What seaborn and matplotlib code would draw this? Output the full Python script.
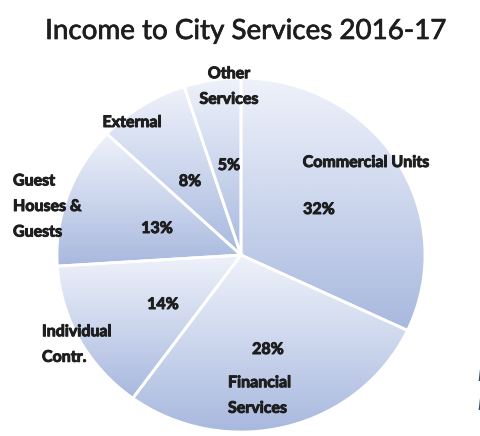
import numpy as np
import matplotlib
matplotlib.use("Agg")
import matplotlib.pyplot as plt
import matplotlib.patheffects as pe
import seaborn as sns

# Share of income by source, in percent (clockwise from 12 o'clock)
categories = ["Commercial Units", "Financial Services", "Individual Contr.",
              "Guest Houses & Guests", "External", "Other Services"]
shares = [32, 28, 14, 13, 8, 5]

title_text = "Income to City Services 2016-17"

sns.set_theme(style="white")
plt.rcParams["font.family"] = ["Lato", "DejaVu Sans"]

W, H = 481, 436
fig = plt.figure(figsize=(W / 100, H / 100), dpi=100)
fig.patch.set_facecolor("white")

# Pie axes: centre (241, 255) px, horizontal radius 184 px, vertical 177 px
cx, cy, rx, ry = 241, 255, 184, 177
ax = fig.add_axes([(cx - rx) / W, (H - (cy + ry)) / H, 2 * rx / W, 2 * ry / H])

# Per-slice vertical gradient: pale at the top, soft blue at the bottom
grad_cmap = sns.blend_palette(["#eff2fa", "#ccd6ed", "#a8b8de"], as_cmap=True)

wedges, _ = ax.pie(shares, startangle=90, counterclock=False, radius=1,
                   wedgeprops=dict(edgecolor="white", linewidth=2.0,
                                   facecolor="none"))

grad = np.linspace(1, 0, 256)[:, None]
for w in wedges:
    t = np.radians(np.linspace(w.theta1, w.theta2, 200))
    xs = np.concatenate([[0], np.cos(t)])
    ys = np.concatenate([[0], np.sin(t)])
    im = ax.imshow(grad, cmap=grad_cmap, vmin=0, vmax=1, origin="lower",
                   aspect="auto", interpolation="bilinear",
                   extent=[xs.min(), xs.max(), ys.min(), ys.max()], zorder=0)
    im.set_clip_path(w)
    w.set_zorder(2)

ax.set_aspect("auto")
ax.set_xlim(-1, 1)
ax.set_ylim(-1, 1)
ax.axis("off")

ink = "#1e1e1e"
heavy = [pe.withStroke(linewidth=0.7, foreground=ink)]


def put(x, y, s, size=11.5, ha="center", **kw):
    fig.text(x / W, 1 - y / H, s, ha=ha, va="center", fontsize=size,
             fontweight="bold", color=ink, linespacing=2.05,
             path_effects=heavy, **kw)


fig.text(246 / W, 1 - 31 / H, title_text, ha="center", va="center",
         fontsize=20, color=ink,
         path_effects=[pe.withStroke(linewidth=0.5, foreground=ink)])

put(366, 163, "Commercial Units")
put(319, 210, "32%")
put(228, 396, "Financial\nServices", ha="left")
put(268, 350, "28%")
put(42, 345, "Individual\nContr.", ha="left")
put(163, 305, "14%")
put(13, 207, "Guest\nHouses &\nGuests", ha="left")
put(157, 229, "13%")
put(132, 123, "External")
put(190, 182, "8%")
put(229, 87, "Other\nServices")
put(229, 166, "5%")

# Caption text running off the right edge
for yy in (376, 405):
    fig.text(477 / W, 1 - yy / H, "I", ha="left", va="center", fontsize=12,
             fontstyle="italic", fontweight="bold", color="#2f4d73")

fig.savefig("out.png", dpi=100, facecolor="white")
